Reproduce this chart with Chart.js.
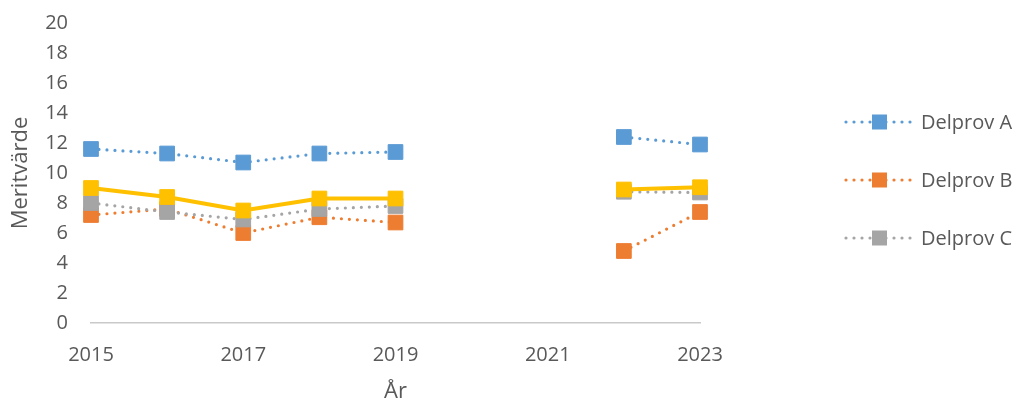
<!DOCTYPE html>
<html>
<head>
<meta charset="utf-8">
<script src="https://cdn.jsdelivr.net/npm/chart.js@4"></script>
<style>
  body { margin: 0; background: #fff; }
</style>
</head>
<body>
<canvas id="chart" width="1019" height="403"></canvas>
<script>
// years on the x axis, null = no measurement that year
var years = [2015, 2016, 2017, 2018, 2019, 2020, 2021, 2022, 2023];
var delprovA = [11.6, 11.3, 10.7, 11.3, 11.4, null, null, 12.4, 11.9];
var delprovB = [7.2, 7.6, 6.0, 7.05, 6.7, null, null, 4.8, 7.4];
var delprovC = [8.0, 7.4, 6.9, 7.6, 7.8, null, null, 8.75, 8.7];
var total = [9.0, 8.4, 7.5, 8.3, 8.3, null, null, 8.9, 9.05];
var yTicks = [0, 2, 4, 6, 8, 10, 12, 14, 16, 18, 20];
var xTicks = [2015, 2017, 2019, 2021, 2023];

var FONT = "'Open Sans', sans-serif";
var TEXT = "#595959";

function points(values) {
  return years.map(function (y, i) { return { x: y, y: values[i] }; });
}

function dotted(label, values, color, order) {
  return {
    label: label,
    data: points(values),
    borderColor: color,
    backgroundColor: color,
    borderWidth: 3.2,
    borderDash: [0, 8],
    borderCapStyle: 'round',
    pointStyle: 'rect',
    pointRadius: 10.4,
    pointBorderWidth: 1,
    pointBorderColor: color,
    pointBackgroundColor: color,
    clip: false,
    order: order,
    inLegend: true
  };
}

// legend drawn by hand: dotted line with the square marker in the middle
var legendPlugin = {
  id: 'sideLegend',
  afterDraw: function (chart) {
    var ctx = chart.ctx;
    var rows = [122, 180, 238];
    var items = chart.data.datasets.filter(function (d) { return d.inLegend; });
    items.forEach(function (d, i) {
      var y = rows[i];
      ctx.save();
      ctx.strokeStyle = d.borderColor;
      ctx.lineWidth = 3.2;
      ctx.lineCap = 'round';
      ctx.setLineDash([0, 8]);
      ctx.beginPath();
      ctx.moveTo(846, y);
      ctx.lineTo(913, y);
      ctx.stroke();
      ctx.setLineDash([]);
      ctx.fillStyle = d.borderColor;
      ctx.fillRect(872, y - 7.5, 15, 15);
      ctx.fillStyle = TEXT;
      ctx.font = "20px " + FONT;
      ctx.textBaseline = 'middle';
      ctx.fillText(d.label, 921, y + 1);
      ctx.restore();
    });
  }
};

new Chart(document.getElementById('chart'), {
  type: 'line',
  data: {
    datasets: [
      dotted('Delprov A', delprovA, '#5B9BD5', 3),
      dotted('Delprov B', delprovB, '#ED7D31', 2),
      dotted('Delprov C', delprovC, '#A5A5A5', 1),
      {
        label: 'Totalt',
        data: points(total),
        borderColor: '#FFC000',
        backgroundColor: '#FFC000',
        borderWidth: 4,
        pointStyle: 'rect',
        pointRadius: 10.4,
        pointBorderWidth: 1,
        pointBorderColor: '#FFC000',
        pointBackgroundColor: '#FFC000',
        clip: false,
        order: 0
      }
    ]
  },
  options: {
    responsive: false,
    animation: false,
    spanGaps: false,
    layout: { padding: { top: 23, right: 319, bottom: 0, left: 0 } },
    plugins: {
      legend: { display: false },
      tooltip: { enabled: false }
    },
    scales: {
      x: {
        type: 'linear',
        min: 2015,
        max: 2023,
        afterFit: function (s) { s.height = 80; s.paddingLeft = 0; s.paddingRight = 0; },
        afterBuildTicks: function (s) { s.ticks = xTicks.map(function (v) { return { value: v }; }); },
        grid: { display: false, drawTicks: false },
        border: { display: true, color: '#C9C9C9', width: 1.5 },
        ticks: {
          padding: 20,
          maxRotation: 0,
          color: TEXT,
          font: { family: FONT, size: 20 },
          callback: function (v) { return String(v); }
        },
        title: {
          display: true,
          text: 'År',
          color: TEXT,
          font: { family: FONT, size: 22 },
          padding: { top: 0, bottom: -2 }
        }
      },
      y: {
        min: 0,
        max: 20,
        afterFit: function (s) { s.width = 91; s.paddingTop = 0; s.paddingBottom = 0; },
        afterBuildTicks: function (s) { s.ticks = yTicks.map(function (v) { return { value: v }; }); },
        grid: { display: false, drawTicks: false },
        border: { display: false },
        ticks: {
          padding: 23,
          color: TEXT,
          font: { family: FONT, size: 20 }
        },
        title: {
          display: true,
          text: 'Meritvärde',
          color: TEXT,
          font: { family: FONT, size: 22 },
          padding: { top: 8, bottom: 0 }
        }
      }
    }
  },
  plugins: [legendPlugin]
});
</script>
</body>
</html>
